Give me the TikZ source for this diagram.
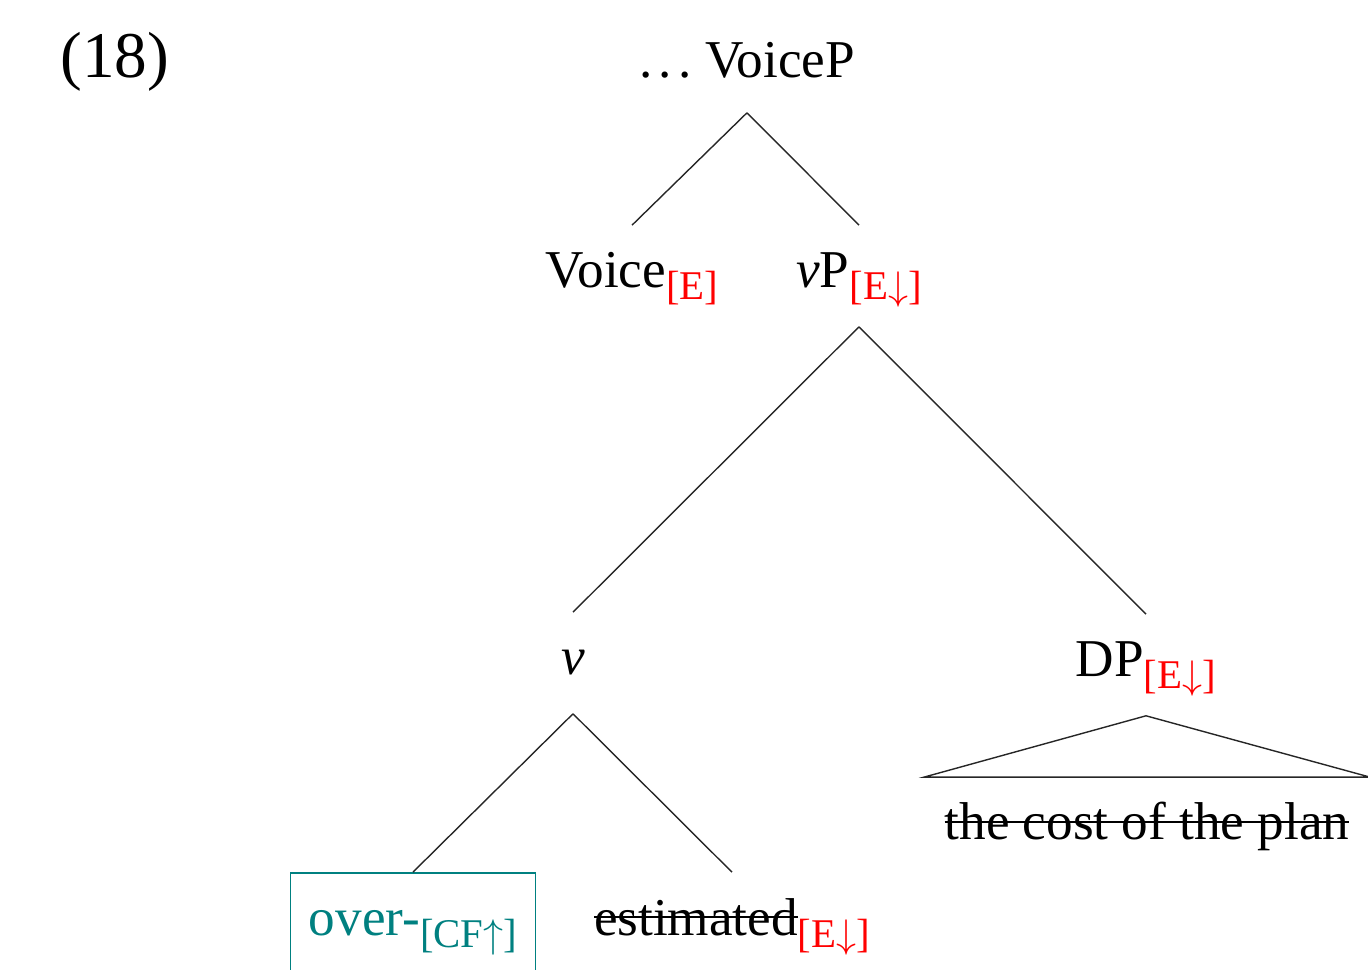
\documentclass[tikz,border=0pt]{standalone}
\usepackage{fontspec}
\setmainfont{Liberation Serif}
\usepackage{tikz}
\usetikzlibrary{positioning}
\definecolor{featred}{HTML}{FF0000}
\definecolor{cfteal}{HTML}{008080}
\newcommand{\feat}[2][featred]{\raisebox{-3pt}{\fontsize{10.2}{12}\selectfont\color{#1}#2}}
\newcommand{\strike}[1]{\setbox0\hbox{#1}\rlap{\rule[4.3pt]{\wd0}{0.4pt}}\box0}
\newcommand{\spdots}{.\kern0.12em.\kern0.12em.}
\tikzset{
  lbl/.style={anchor=base, inner sep=0pt, text height=15.5pt, text depth=9.5pt,
    font=\fontsize{13.3}{16}\selectfont},
  edge/.style={line width=0.35pt, draw=black!85},
}
\begin{document}
\begin{tikzpicture}[x=0.25pt, y=-0.25pt]
\useasboundingbox (0,0) rectangle (1368,970);

% Example number
\node[lbl, font=\fontsize{16.3}{19}\selectfont] (exnum) at (115,78) {(18)};

% Tree nodes
\node[lbl, text depth=8.5pt] (voicep) at (747,78) {\spdots\ VoiceP};
\node[lbl] (voice) at (632,288) {Voice\feat{[E]}};
\node[lbl] (vp) at (859,288) {\textit{v}P\feat{[E$\downarrow$]}};
\node[lbl] (v) at (573,675) {\textit{v}};
\node[lbl] (dp) at (1146,677) {DP\feat{[E$\downarrow$]}};
\node[lbl, inner xsep=5pt] (dpfoot) at (1147,840) {\strike{the cost of the plan}};
\node[lbl, inner xsep=4.6pt, draw=cfteal, line width=0.45pt, text=cfteal] (over) at (413,935) {over-\feat[cfteal]{[CF$\uparrow$]}};
\node[lbl] (est) at (732,935) {\strike{estimated}\feat{[E$\downarrow$]}};

% Branches
\draw[edge] (voicep.south) -- (voice.north);
\draw[edge] (voicep.south) -- (vp.north);
\draw[edge] (vp.south) -- (v.north);
\draw[edge] (vp.south) -- (dp.north);
\draw[edge] (v.south) -- (over.north);
\draw[edge] (v.south) -- (est.north);

% Triangle over DP
\draw[edge] (dp.south) -- (dpfoot.north west) -- (dpfoot.north east) -- cycle;

\end{tikzpicture}
\end{document}
